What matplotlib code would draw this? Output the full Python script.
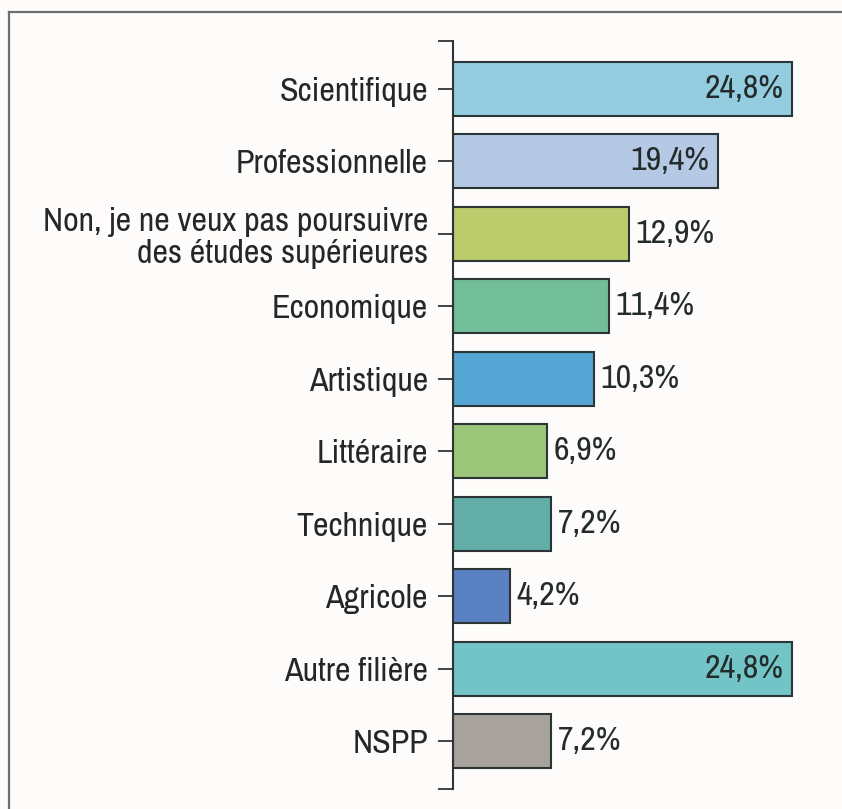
import matplotlib.pyplot as plt
from matplotlib.lines import Line2D

categories = ["Scientifique", "Professionnelle",
              "Non, je ne veux pas poursuivre\ndes études supérieures",
              "Economique", "Artistique", "Littéraire", "Technique",
              "Agricole", "Autre filière", "NSPP"]
values = [24.8, 19.4, 12.9, 11.4, 10.3, 6.9, 7.2, 4.2, 24.8, 7.2]
value_labels = ["24,8%", "19,4%", "12,9%", "11,4%", "10,3%", "6,9%",
                "7,2%", "4,2%", "24,8%", "7,2%"]
colors = ["#94cde0", "#b5c8e4", "#bccb6c", "#72be9a", "#55a6d4",
          "#9cc67a", "#62ada6", "#5a82c2", "#72c4c6", "#a8a29c"]
inside = [True, True, False, False, False, False, False, False, True, False]

plt.rcParams['font.family'] = ['Archivo Narrow', 'DejaVu Sans']

fig = plt.figure(figsize=(8.42, 8.09), dpi=100)
fig.patch.set_facecolor("#fdfcfa")

# frame lines (top and left)
fig.add_artist(Line2D([9 / 842, 1.0], [1 - 12 / 809, 1 - 12 / 809],
                      transform=fig.transFigure, color="#6e6e6e", lw=1.6))
fig.add_artist(Line2D([9 / 842, 9 / 842], [0.0, 1 - 12 / 809],
                      transform=fig.transFigure, color="#6e6e6e", lw=1.6))

ax = fig.add_axes([453 / 842, 20 / 809, 355 / 842, 748 / 809])
ax.set_facecolor("none")

ypos = list(range(len(categories)))
ax.barh(ypos, values, height=0.75, color=colors, edgecolor="#2b3535",
        linewidth=1.5, zorder=2)

for y, v, lab, ins in zip(ypos, values, value_labels, inside):
    if ins:
        ax.annotate(lab, (v, y), xytext=(-6, 0), textcoords="offset points",
                    ha="right", va="center", fontsize=24.5, color="#232b2b")
    else:
        ax.annotate(lab, (v, y), xytext=(4.5, 0), textcoords="offset points",
                    ha="left", va="center", fontsize=24.5, color="#232b2b")

ax.set_xlim(0, 26)
ax.set_ylim(len(categories) - 1 + 0.66, -0.66)

ax.set_yticks(ypos)
ax.set_yticklabels(categories, fontsize=24.5, color="#262626",
                   linespacing=1.08)
ax.set_yticks([len(categories) - 1 + 0.66, -0.66], minor=True)
ax.tick_params(axis="y", which="both", length=11, width=1.3,
               color="#333333", pad=7)
ax.tick_params(axis="x", bottom=False, labelbottom=False)

for s in ["top", "right", "bottom"]:
    ax.spines[s].set_visible(False)
ax.spines["left"].set_color("#333333")
ax.spines["left"].set_linewidth(1.5)

plt.savefig("out.png", dpi=100, facecolor=fig.get_facecolor())
